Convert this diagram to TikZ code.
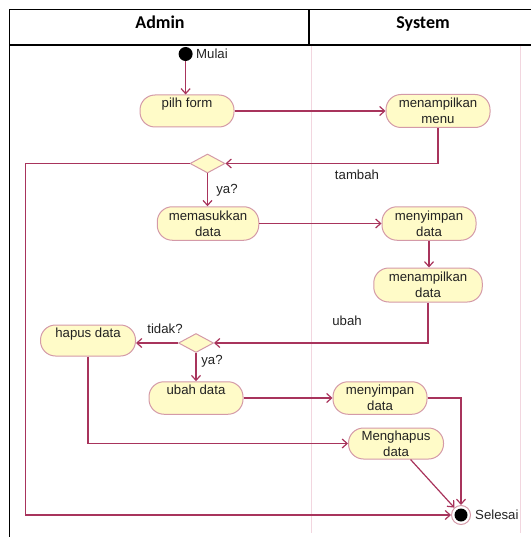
\documentclass[tikz,border=0pt]{standalone}
\usepackage{fontspec}
\setmainfont{Liberation Sans}
\newfontfamily\headfont{Carlito}
\usetikzlibrary{arrows.meta,shapes.geometric}
\definecolor{flowc}{HTML}{A8345C}
\definecolor{nodeb}{HTML}{D49AA8}
\definecolor{nodef}{HTML}{FFFBC8}
\definecolor{lanec}{HTML}{F2D6DF}
\definecolor{txt}{HTML}{222222}
\tikzset{
 act/.style={draw=nodeb, fill=nodef, line width=1pt, rounded corners=15pt, align=center,
   font=\fontsize{13.2}{16}\selectfont, text=txt, inner sep=0pt},
 dec/.style={diamond, draw=nodeb, fill=nodef, line width=1pt, minimum width=35pt,
   minimum height=19pt, inner sep=0pt},
 flow/.style={draw=flowc, line width=1.2pt, -{Straight Barb[length=5pt,width=9pt]}},
 lbl/.style={font=\fontsize{13.2}{15}\selectfont, text=txt, inner sep=0pt},
 head/.style={font=\headfont\bfseries\fontsize{18}{20}\selectfont, text=black, inner sep=0pt, anchor=base},
 frame/.style={draw=black, line width=1.2pt},
 lane/.style={draw=lanec, line width=1pt},
}
\begin{document}
\begin{tikzpicture}[x=1pt,y=-1pt]
\useasboundingbox (0,0) rectangle (531,537);
% frame and swimlanes
\draw[frame] (9.5,537) -- (9.5,9.5) -- (531,9.5);
\draw[frame] (9.5,45) -- (531,45);
\draw[frame] (309,9.5) -- (309,45);
\draw[lane] (311.5,46) -- (311.5,533);
\draw[lane] (520,46) -- (520,533);
\node[head] (hadmin) at (160,28.5) {Admin};
\node[head] (hsys) at (423,28.5) {System};
% nodes
\node[circle, fill=black, minimum size=14pt, inner sep=0pt] (start) at (185.6,54) {};
\node[lbl, anchor=west] (mulai) at (196,54) {Mulai};
\node[act, minimum width=94pt, minimum height=32pt] (pilh) at (187,111) {pilh form\\\mbox{}};
\node[act, minimum width=104pt, minimum height=33pt] (menu) at (438,111) {menampilkan\\menu};
\node[dec] (d1) at (207.5,163.5) {};
\node[act, minimum width=101.5pt, minimum height=33.5pt] (masuk) at (208,223.5) {memasukkan\\data};
\node[act, minimum width=94pt, minimum height=33.5pt] (simpan1) at (429,223.5) {menyimpan\\data};
\node[act, minimum width=108.5pt, minimum height=34pt] (tampil) at (428,285) {menampilkan\\data};
\node[dec] (d2) at (196,343) {};
\node[act, minimum width=95pt, minimum height=31pt] (hapus) at (88,340.5) {hapus data\\\mbox{}};
\node[act, minimum width=94pt, minimum height=32.5pt] (ubah) at (196,398) {ubah data\\\mbox{}};
\node[act, minimum width=94pt, minimum height=32.5pt] (simpan2) at (380,398) {menyimpan\\data};
\node[act, minimum width=95pt, minimum height=31pt] (hapus2) at (396,443.5) {Menghapus\\data};
\node[circle, draw=nodeb, fill=white, line width=1pt, minimum size=19pt, inner sep=0pt] (end) at (461,515) {};
\fill[black] (end.center) circle (6.5pt);
\node[lbl, anchor=west] (selesai) at (475,515) {Selesai};
% labels
\node[lbl] (ltambah) at (357,174.5) {tambah};
\node[lbl] (lya1) at (227,190) {ya?};
\node[lbl] (lubah) at (347,321) {ubah};
\node[lbl] (ltidak) at (165,329) {tidak?};
\node[lbl] (lya2) at (212,361) {ya?};
% connectors
\coordinate (lb) at (25.4,515);
\draw[flow] (start) -- (start |- pilh.north);
\draw[flow] (pilh.east) -- (pilh.east -| menu.west);
\draw[flow] (menu.south) |- (d1.east);
\draw[flow] (d1.west) -| (lb) -- (end.west);
\draw[flow] (d1.south) -- (d1.south |- masuk.north);
\draw[flow] (masuk.east) -- (simpan1.west);
\draw[flow] (simpan1.south) -- (simpan1.south |- tampil.north);
\draw[flow] (tampil.south) |- (d2.east);
\draw[flow] (d2.west) -- (d2.west -| hapus.east);
\draw[flow] (d2.south) -- (ubah.north);
\draw[flow] (ubah.east) -- (simpan2.west);
\draw[flow] (simpan2.east) -| (end.north);
\draw[flow] (hapus.south) |- (hapus2.west);
\draw[flow] (hapus2) -- (end);
\end{tikzpicture}
\end{document}
